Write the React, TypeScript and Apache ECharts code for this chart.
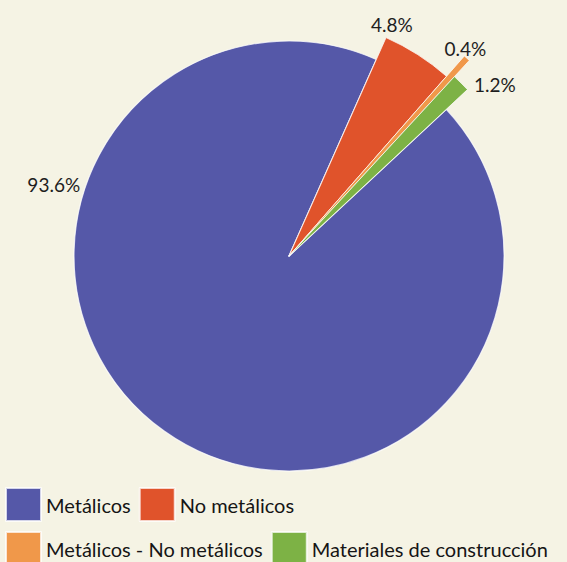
import React, { useEffect, useRef } from "react";
import * as echarts from "echarts";

const CATEGORIES = ["Metálicos", "No metálicos", "Metálicos - No metálicos", "Materiales de construcción"];
const VALUES = [93.6, 4.8, 0.4, 1.2];
const COLORS = ["#5558a8", "#e0532b", "#f0984a", "#7db245"];

// layout (not data)
const CX = 289;
const CY = 256;
const RADII = [215, 239, 266, 244];
const LABEL_POLAR: [number, number][] = [
  [163, 246],
  [66, 253],
  [49.6, 272],
  [39.8, 268],
];
const START_ANGLE = 43;

export default function App() {
  const ref = useRef<HTMLDivElement>(null);
  useEffect(() => {
    if (!ref.current) return;
    const chart = echarts.init(ref.current, undefined, { renderer: "svg" });
    const baseData = CATEGORIES.map((name, i) => ({
      name,
      value: VALUES[i],
      itemStyle: { color: COLORS[i] },
    }));
    const series: any[] = [
      {
        type: "pie",
        center: [CX, CY],
        radius: RADII[0],
        startAngle: START_ANGLE,
        clockwise: true,
        avoidLabelOverlap: false,
        silent: true,
        itemStyle: { borderColor: "rgba(255,255,255,0.75)", borderWidth: 1.2 },
        label: {
          show: true,
          position: "outside",
          formatter: (p: any) => p.value.toFixed(1) + "%",
          fontFamily: "Lato",
          fontSize: 19,
          color: "#1e1e1e",
        },
        labelLine: { show: false },
        labelLayout: (params: any) => {
          const [a, d] = LABEL_POLAR[params.dataIndex];
          const r = (a * Math.PI) / 180;
          return {
            x: CX + d * Math.cos(r),
            y: CY - d * Math.sin(r),
            align: "center",
            verticalAlign: "middle",
          };
        },
        data: baseData,
        z: 1,
      },
    ];
    for (let k = 1; k < CATEGORIES.length; k++) {
      series.push({
        type: "pie",
        center: [CX, CY],
        radius: RADII[k],
        startAngle: START_ANGLE,
        clockwise: true,
        silent: true,
        label: { show: false },
        labelLine: { show: false },
        data: CATEGORIES.map((name, i) => ({
          name,
          value: VALUES[i],
          itemStyle:
            i === k
              ? { color: COLORS[i], borderColor: "rgba(255,255,255,0.75)", borderWidth: 1 }
              : { color: "transparent", borderWidth: 0 },
        })),
        z: 2,
      });
    }
    const legendBase = {
      left: 0,
      orient: "horizontal",
      icon: "rect",
      itemWidth: 35,
      itemHeight: 33,
      itemGap: 8,
      selectedMode: false,
    };
    const textBase = {
      fontFamily: "Lato",
      fontSize: 20,
      lineHeight: 20,
      color: "#151515",
    };
    chart.setOption({
      animation: false,
      backgroundColor: "#f5f3e4",
      legend: [
        {
          ...legendBase,
          top: 482,
          textStyle: { ...textBase, padding: [12, 0, 0, 0] },
          data: [0, 1].map((i) => ({ name: CATEGORIES[i], itemStyle: { color: COLORS[i] } })),
        },
        {
          ...legendBase,
          top: 526,
          textStyle: { ...textBase, padding: [7, 0, 0, 0] },
          data: [2, 3].map((i) => ({ name: CATEGORIES[i], itemStyle: { color: COLORS[i] } })),
        },
      ],
      series,
    });
    return () => chart.dispose();
  }, []);
  return (
    <div
      ref={ref}
      style={{ position: "fixed", left: 0, top: 0, width: 567, height: 562 }}
    />
  );
}
